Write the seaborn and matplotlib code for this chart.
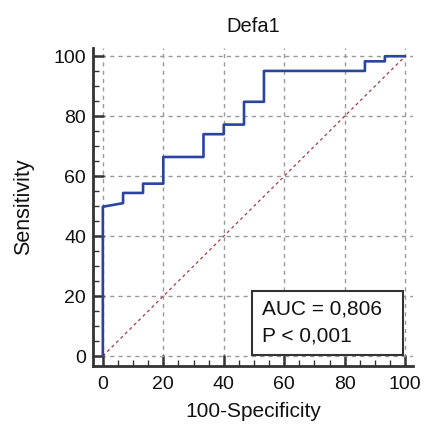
import numpy as np
import pandas as pd
import seaborn as sns
import matplotlib.pyplot as plt
from matplotlib.patches import Rectangle
from matplotlib.ticker import MultipleLocator

# ROC curve points (100-Specificity, Sensitivity)
fpr = [0, 0, 6.7, 6.7, 13.3, 13.3, 20, 20, 33.3, 33.3, 40, 40, 46.7, 46.7,
       53.3, 53.3, 86.7, 86.7, 93.3, 93.3, 100]
sens = [0, 49.8, 51, 54.4, 54.4, 57.5, 57.5, 66.4, 66.4, 74, 74, 77.2, 77.2,
        84.8, 84.8, 95.1, 95.1, 98.3, 98.3, 100, 100]
ref_line = [0, 100]
title = "Defa1"
auc_lines = ["AUC = 0,806", "P < 0,001"]

sns.set_style("white")
plt.rcParams['font.family'] = ['Liberation Sans', 'DejaVu Sans']

df = pd.DataFrame({'fpr': fpr, 'sens': sens})

fig = plt.figure(figsize=(4.24, 4.26), dpi=100)
ax = fig.add_axes([0.219, 0.141, 0.755, 0.746])

# grid under the lines
ax.set_axisbelow(True)
ax.grid(True, which='major', color='#9a9a9a', linestyle=(0, (3, 3)), linewidth=1)

# diagonal reference
ax.plot(ref_line, ref_line, color='#a33a48', linestyle=(0, (2.5, 2.5)), linewidth=0.9)

# ROC curve
sns.lineplot(data=df, x='fpr', y='sens', sort=False, estimator=None,
             color='#2b44a0', linewidth=1.9, ax=ax)

ax.set_xlim(-3.3, 102.6)
ax.set_ylim(-3.3, 102.7)
ax.xaxis.set_major_locator(MultipleLocator(20))
ax.yaxis.set_major_locator(MultipleLocator(20))
ax.xaxis.set_minor_locator(MultipleLocator(5))
ax.yaxis.set_minor_locator(MultipleLocator(5))

for side in ['top', 'right']:
    ax.spines[side].set_visible(False)
for side in ['left', 'bottom']:
    ax.spines[side].set_color('#333333')
    ax.spines[side].set_linewidth(2)

ax.tick_params(which='both', left=True, bottom=True, direction='in', color='#333333')
ax.tick_params(which='major', length=8, width=1.8, labelsize=14, labelcolor='#111111')
ax.tick_params(which='minor', length=4.5, width=1)
ax.tick_params(axis='x', which='major', pad=7)
ax.tick_params(axis='y', which='major', pad=5)

ax.set_xlabel("100-Specificity", fontsize=15, labelpad=7, color='#111111')
ax.set_ylabel("Sensitivity", fontsize=15.5, labelpad=14, color='#111111')
ax.set_title(title, fontsize=14.5, pad=11.5, color='#111111')

# AUC legend box
box = Rectangle((49.3, 0.3), 50, 21.4, facecolor='white', edgecolor='#333333',
                linewidth=1.5, zorder=5)
ax.add_patch(box)
for i, line in enumerate(auc_lines):
    ax.text(52.6, 13.7 - 9 * i, line, fontsize=15, va='baseline', ha='left',
            color='#111111', zorder=6)

fig.savefig('out.png', dpi=100)
